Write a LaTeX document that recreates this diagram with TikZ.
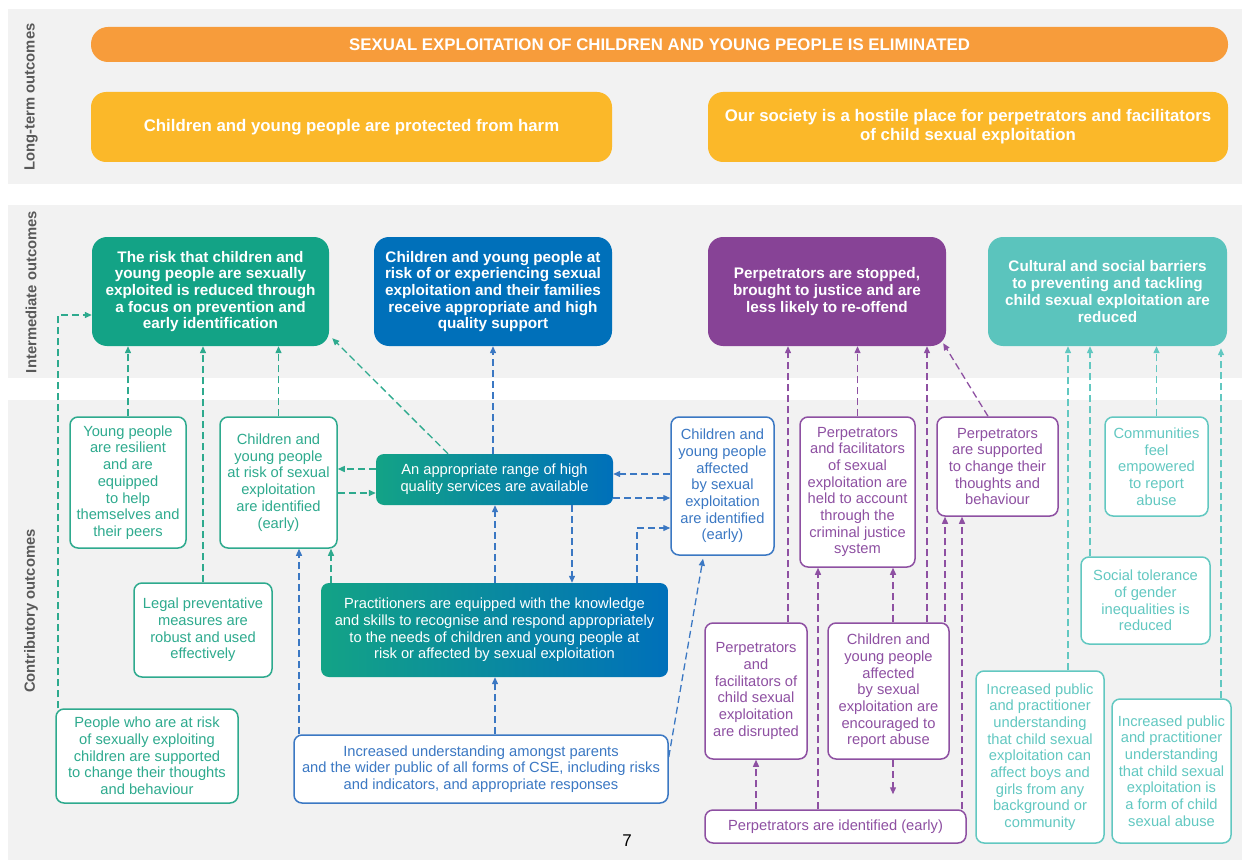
\documentclass[tikz,border=0pt]{standalone}
\usepackage{fontspec}
\setmainfont{Liberation Sans}
\usetikzlibrary{arrows.meta,calc}
\definecolor{bandgray}{HTML}{F2F2F2}
\definecolor{corange}{HTML}{F79C3B}
\definecolor{cyellow}{HTML}{FBB829}
\definecolor{cgreen}{HTML}{13A386}
\definecolor{cblue}{HTML}{0070BA}
\definecolor{cpurple}{HTML}{874396}
\definecolor{cteal}{HTML}{5BC4BD}
\definecolor{lgreen}{HTML}{2EAA8E}
\definecolor{lblue}{HTML}{3B78C3}
\definecolor{lpurple}{HTML}{8E50A2}
\definecolor{lteal}{HTML}{62C8C1}
\definecolor{labgray}{HTML}{595959}
\newcommand\fBig{\fontsize{16.8}{19}\selectfont\bfseries}
\newcommand\fMid{\fontsize{15.3}{16.7}\selectfont\bfseries}
\newcommand\fSml{\fontsize{14.7}{16.7}\selectfont}
\begin{document}
\begin{tikzpicture}[x=1pt,y=-1pt,
  wh/.style 2 args={minimum width=#1pt,minimum height=#2pt},
  big/.style={fill=#1,draw=none,rounded corners=15pt,text=white,font=\fBig,align=center,inner sep=0pt},
  mid/.style={fill=#1,draw=none,rounded corners=15pt,text=white,font=\fMid,align=center,inner sep=0pt},
  obox/.style={draw=#1,line width=1.5pt,fill=white,rounded corners=8pt,text=#1,font=\fSml,align=center,inner sep=0pt},
  gbox/.style={left color=cgreen,right color=cblue,draw=none,rounded corners=8pt,text=white,font=\fSml,align=center,inner sep=0pt},
  con/.style={draw=#1,dash pattern=on 7pt off 4pt,line width=1.3pt,-{Triangle[length=7pt,width=6pt]}},
  side/.style={rotate=90,text=labgray,font=\fontsize{14.8}{16}\selectfont\bfseries}]
\useasboundingbox (0,0) rectangle (1244,861);
% bands
\fill[bandgray] (8,9) rectangle (1242,184);
\fill[bandgray] (8,205) rectangle (1242,378);
\fill[bandgray] (8,400) rectangle (1242,860);
% side labels
\node[side] (labL) at (31,97) {Long-term outcomes};
\node[side] (labI) at (31,292) {Intermediate outcomes};
\node[side] (labC) at (31,611) {Contributory outcomes};
% long-term
\node[big=corange,wh={1137}{35},rounded corners=17pt] (goal) at (659.5,44.5) {SEXUAL EXPLOITATION OF CHILDREN AND YOUNG PEOPLE IS ELIMINATED};
\node[big=cyellow,wh={521}{70}] (ltA) at (351.5,127) {Children and young people are protected from harm};
\node[big=cyellow,wh={520}{70}] (ltB) at (968,127) {Our society is a hostile place for perpetrators and facilitators\\of child sexual exploitation};
% intermediate
\node[mid=cgreen,wh={237}{109}] (gI) at (210.5,291.5) {The risk that children and\\young people are sexually\\exploited is reduced through\\a focus on prevention and\\early identification};
\node[mid=cblue,wh={238}{109}] (bI) at (493,291.5) {Children and young people at\\risk of or experiencing sexual\\exploitation and their families\\receive appropriate and high\\quality support};
\node[mid=cpurple,wh={238}{109}] (pI) at (827,291.5) {Perpetrators are stopped,\\brought to justice and are\\less likely to re-offend};
\node[mid=cteal,wh={239}{109}] (tI) at (1107.5,291.5) {Cultural and social barriers\\to preventing and tackling\\child sexual exploitation are\\reduced};
% contributory
\node[obox=lgreen,wh={116}{131}] (yp) at (128,482.5) {Young people\\are resilient\\and are\\equipped\\to help\\themselves and\\their peers};
\node[obox=lgreen,wh={117}{131}] (car) at (278.5,482.5) {Children and\\young people\\at risk of sexual\\exploitation\\are identified\\(early)};
\node[gbox,wh={237}{51}] (range) at (494.5,479.5) {An appropriate range of high\\quality services are available};
\node[obox=lblue,wh={103}{138}] (aff) at (722.5,486) {Children and\\young people\\affected\\by sexual\\exploitation\\are identified\\(early)};
\node[obox=lpurple,wh={115}{150}] (held) at (857.5,492) {Perpetrators\\and facilitators\\of sexual\\exploitation are\\held to account\\through the\\criminal justice\\system};
\node[obox=lpurple,wh={121}{99}] (sup) at (997.5,466.5) {Perpetrators\\are supported\\to change their\\thoughts and\\behaviour};
\node[obox=lteal,wh={103}{99}] (comm) at (1156.5,466.5) {Communities\\feel\\empowered\\to report\\abuse};
\node[obox=lgreen,wh={138}{94}] (legal) at (203,630) {Legal preventative\\measures are\\robust and used\\effectively};
\node[gbox,wh={347}{94}] (prac) at (494.5,630) {Practitioners are equipped with the knowledge\\and skills to recognise and respond appropriately\\to the needs of children and young people at\\risk or affected by sexual exploitation};
\node[obox=lteal,wh={129}{87}] (social) at (1145.5,600.5) {Social tolerance\\of gender\\inequalities is\\reduced};
\node[obox=lpurple,wh={102}{136}] (disr) at (756,691) {Perpetrators\\and\\facilitators of\\child sexual\\exploitation\\are disrupted};
\node[obox=lpurple,wh={121}{136}] (enc) at (888.5,691) {Children and\\young people\\affected\\by sexual\\exploitation are\\encouraged to\\report abuse};
\node[obox=lteal,wh={128}{172}] (incb) at (1040,757) {Increased public\\and practitioner\\understanding\\that child sexual\\exploitation can\\affect boys and\\girls from any\\background or\\community};
\node[obox=lteal,wh={119}{144}] (incf) at (1171.5,771) {Increased public\\and practitioner\\understanding\\that child sexual\\exploitation is\\a form of child\\sexual abuse};
\node[obox=lgreen,wh={182}{94}] (people) at (147,756) {People who are at risk\\of sexually exploiting\\children are supported\\to change their thoughts\\and behaviour};
\node[obox=lblue,wh={374}{68}] (incu) at (481,769) {Increased understanding amongst parents\\and the wider public of all forms of CSE, including risks\\and indicators, and appropriate responses};
\node[obox=lpurple,wh={261}{33}] (ident) at (835.5,826.5) {Perpetrators are identified (early)};
\node[font=\fontsize{17}{20}\selectfont] (pg) at (627,841) {7};
% guide coordinates
\foreach \v in {58,299,331,448,495,572,637,703,756,788,818,893,927,945,962,988,1068,1090,1221}
  \coordinate (gx\v) at (\v,0);
\foreach \v in {315,469,474,493,498,528,757}
  \coordinate (gy\v) at (0,\v);
% green connectors
\draw[con=lgreen] (people.north -| gx58) |- (gI.west |- gy315);
\draw[con=lgreen] (yp.north) -- (yp.north |- gI.south);
\draw[con=lgreen] (legal.north) -- (legal.north |- gI.south);
\draw[con=lgreen] (car.north) -- (car.north |- gI.south);
\draw[con=lgreen] (range.north -| gx448) -- ($(gI.south east)+(3,-8)$);
\draw[con=lgreen] (range.west |- gy469) -- (car.east |- gy469);
\draw[con=lgreen] (car.east |- gy493) -- (range.west |- gy493);
\draw[con=lgreen] (prac.north -| gx331) -- (car.south -| gx331);
% blue connectors
\draw[con=lblue] (range.north -| bI.south) -- (bI.south);
\draw[con=lblue] (aff.west |- gy474) -- (range.east |- gy474);
\draw[con=lblue] (range.east |- gy498) -- (aff.west |- gy498);
\draw[con=lblue] (prac.north -| gx495) -- (range.south -| gx495);
\draw[con=lblue] (range.south -| gx572) -- (prac.north -| gx572);
\draw[con=lblue] (prac.north -| gx637) |- (aff.west |- gy528);
\draw[con=lblue] (incu.north -| gx495) -- (prac.south -| gx495);
\draw[con=lblue] (incu.north -| gx299) -- (car.south -| gx299);
\draw[con=lblue] (incu.east |- gy757) -- ($(aff.south -| gx703)+(0,3)$);
% purple connectors
\draw[con=lpurple] (disr.north -| gx788) -- (pI.south -| gx788);
\draw[con=lpurple] (held.north) -- (pI.south -| held.north);
\draw[con=lpurple] (enc.north -| gx927) -- (pI.south -| gx927);
\draw[con=lpurple] (sup.north -| gx988) -- ($(pI.south east)+(-3,-3)$);
\draw[con=lpurple] (enc.north -| gx893) -- (held.south -| gx893);
\draw[con=lpurple] (ident.north -| gx818) -- (held.south -| gx818);
\draw[con=lpurple] (ident.north -| disr.south) -- (disr.south);
\draw[con=lpurple] (enc.south -| gx893) -- ($(ident.north -| gx893)+(0,-15)$);
\draw[con=lpurple] (enc.north -| gx945) -- (sup.south -| gx945);
\draw[con=lpurple] (ident.north -| gx962) -- (sup.south -| gx962);
% teal connectors
\draw[con=lteal] (incb.north -| gx1068) -- (tI.south -| gx1068);
\draw[con=lteal] (social.north -| gx1090) -- (tI.south -| gx1090);
\draw[con=lteal] (comm.north) -- (tI.south -| comm.north);
\draw[con=lteal] (incf.north -| gx1221) -- ($(tI.south -| gx1221)+(0,2)$);
\end{tikzpicture}
\end{document}
